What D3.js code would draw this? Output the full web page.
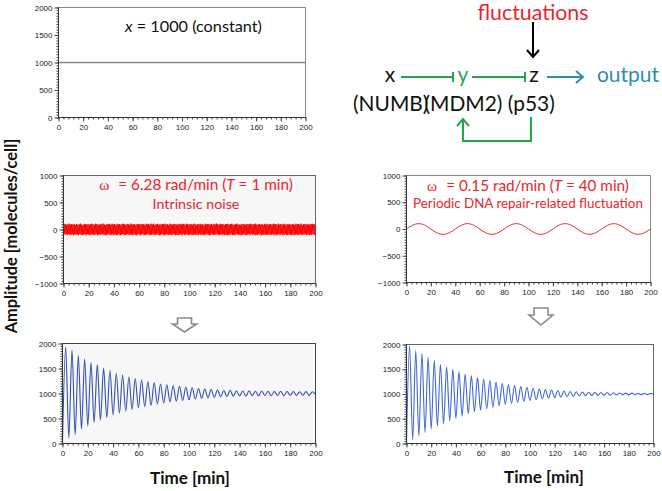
<!DOCTYPE html>
<html><head><meta charset="utf-8">
<script src="https://cdn.jsdelivr.net/npm/d3@7"></script>
<style>body{margin:0;background:#fff}svg{display:block}</style>
</head><body>
<svg id="c" width="662" height="491"></svg>
<script>
// ---------- DATA ----------
const timeTicks = [0,20,40,60,80,100,120,140,160,180,200];
const ticks0to2000 = [0,500,1000,1500,2000];
const ticksPm1000 = [-1000,-500,0,500,1000];
const constantInput = [[0,1000],[200,1000]];
// intrinsic noise (T = 1 min), extremes every 0.5 min
const noiseValues = [0,
95,-88,104,-92,86,-101,97,-84,108,-95,90,-99,102,-87,93,-106,99,-90,85,-97,
101,-93,88,-104,96,-86,107,-98,91,-102,84,-95,103,-89,97,-108,92,-85,100,-94,
87,-103,98,-91,106,-88,94,-100,89,-96,105,-84,99,-107,92,-93,86,-101,103,-90,
96,-87,109,-95,90,-104,85,-98,102,-92,97,-86,104,-100,88,-94,107,-89,93,-105,
99,-91,86,-102,104,-96,92,-88,101,-107,89,-93,97,-85,106,-99,94,-103,87,-92,
103,-86,95,-100,88,-94,108,-90,96,-104,91,-87,100,-97,85,-106,102,-93,98,-89,
90,-105,101,-92,97,-86,94,-103,87,-99,105,-91,93,-88,103,-96,89,-101,106,-94,
94,-90,106,-97,85,-102,99,-89,104,-93,88,-107,96,-100,91,-86,101,-95,97,-104,
105,-93,91,-88,100,-101,86,-96,107,-90,95,-103,89,-92,102,-87,98,-106,93,-99,
88,-100,97,-95,103,-89,92,-105,99,-86,104,-98,87,-94,106,-91,95,-102,90,-97,
102,-88,94,-104,89,-96,107,-92,97,-101,86,-90,100,-106,93,-85,104,-99,88,-93,
97,-103,85,-91,105,-97,92,-87,101,-94,99,-108,90,-96,103,-89,87,-100,106,-92,
91,-95,108,-86,96,-102,88,-99,104,-90,93,-97,102,-88,85,-104,98,-93,100,-107,
104,-91,89,-98,99,-87,106,-103,92,-95,88,-101,97,-90,107,-86,94,-99,91,-96,
86,-106,101,-93,94,-90,100,-97,87,-104,103,-92,95,-88,99,-102,105,-85,92,-98,
99,-89,93,-105,108,-94,90,-100,96,-87,102,-93,88,-107,101,-91,86,-97,104,-95,
93,-102,105,-88,87,-99,103,-91,98,-96,90,-86,107,-101,94,-93,100,-104,89,-90,
107,-94,88,-97,101,-85,95,-106,91,-100,104,-89,86,-95,99,-103,92,-88,97,-101,
89,-99,100,-91,94,-104,87,-93,106,-88,97,-102,103,-96,90,-87,108,-94,85,-100,
96,-92,103,-87,91,-101,99,-95,88,-105,94,-90,101,-98,105,-86,92,-103,97,-5];
// periodic DNA repair-related fluctuation (T = 40 min), every 5 min
const periodicValues = [0,71,100,71,0,-71,-100,-71, 0,71,100,71,0,-71,-100,-71,
 0,71,100,71,0,-71,-100,-71, 0,71,100,71,0,-71,-100,-71, 0,71,100,71,0,-71,-100,-71, 0];
// p53 response, peaks/troughs every 2.5 min
const responseLeft = [0,1930,110,1870,180,1760,290,1690,350,1620,420,1580,470,1510,520,1460,570,
 1400,610,1370,650,1330,680,1300,710,1270,740,1240,760,1220,790,1190,810,1175,830,1160,845,1145,860,
 1130,875,1120,890,1100,905,1090,915,1080,925,1070,935,1060,940,1065,945,1055,950,1050,945,1055,955,
 1045,950,1050,960,1045,955,1040,960,1045,955,1040,965,1040,960,1035,965,1040,960,1035,980];
const responseRight = [0,1970,70,1880,150,1820,220,1740,290,1680,350,1600,400,1550,460,1500,510,
 1450,550,1400,600,1370,640,1330,670,1300,700,1270,730,1240,760,1215,790,1190,810,1170,830,1150,850,
 1135,870,1115,885,1100,900,1090,915,1080,925,1070,935,1060,945,1050,955,1045,960,1040,965,1035,970,
 1035,970,1030,975,1030,975,1025,980,1020,982,1018,983,1018,985,1015,985,1015,987,1012,1000];

const noiseTimes = noiseValues.map((v,i)=>i*0.5);
const periodicTimes = periodicValues.map((v,i)=>i*5);
const responseTimes = responseLeft.map((v,i)=>i*2.5);

// ---------- DRAW ----------
const svg = d3.select("#c");
const CAL = "Lato, 'Open Sans', sans-serif";
const TICKF = "'Liberation Sans', Arial, sans-serif";

function fit(t, w){
  const L = t.node().getComputedTextLength();
  const fs = parseFloat(t.attr("font-size"));
  t.attr("font-size", fs*w/L);
  return t;
}

function panel(o){
  const g = svg.append("g");
  const x = d3.scaleLinear().domain([0,200]).range([o.l,o.r]);
  const y = d3.scaleLinear().domain(o.yd).range([o.b,o.t]);
  g.append("rect").attr("x",o.l).attr("y",o.t).attr("width",o.r-o.l).attr("height",o.b-o.t)
    .attr("fill",o.bg).attr("stroke",o.border).attr("stroke-width",1);
  const style = s => { s.select(".domain").remove();
    s.selectAll("line").attr("stroke","#444");
    s.selectAll("text").attr("font-family",TICKF).attr("font-size",8).attr("fill","#222"); };
  const fmt = d3.format("d");
  g.append("g").attr("transform",`translate(${o.l},0)`)
    .call(d3.axisLeft(y).tickValues(d3.range(o.yd[0],o.yd[1]+1,50)).tickSize(2).tickFormat("")).call(style);
  g.append("g").attr("transform",`translate(${o.l},0)`)
    .call(d3.axisLeft(y).tickValues(o.yt).tickSize(4).tickPadding(2).tickFormat(fmt)).call(style);
  g.append("g").attr("transform",`translate(0,${o.b})`)
    .call(d3.axisBottom(x).tickValues(d3.range(0,201,4)).tickSize(2).tickFormat("")).call(style);
  g.append("g").attr("transform",`translate(0,${o.b})`)
    .call(d3.axisBottom(x).tickValues(timeTicks).tickSize(4).tickPadding(3).tickFormat(fmt)).call(style);
  const clipId = "clip"+Math.round(o.l)+"_"+Math.round(o.t);
  svg.append("clipPath").attr("id",clipId).append("rect")
    .attr("x",o.l).attr("y",o.t).attr("width",o.r-o.l).attr("height",o.b-o.t);
  const plot = g.append("g").attr("clip-path",`url(#${clipId})`);
  g.append("line").attr("x1",o.l).attr("x2",o.l).attr("y1",o.t).attr("y2",o.b).attr("stroke","#333");
  g.append("line").attr("x1",o.l).attr("x2",o.r).attr("y1",o.b).attr("y2",o.b).attr("stroke","#333");
  return {x,y,g,plot};
}

// Panel 1: constant input
const p1 = panel({l:58.5,r:305.5,t:7.5,b:117.5,yd:[0,2000],yt:ticks0to2000,bg:"#fff",border:"#888"});
p1.plot.append("path").datum(constantInput)
  .attr("d",d3.line().x(d=>p1.x(d[0])).y(d=>p1.y(d[1])))
  .attr("stroke","#888").attr("stroke-width",1.5).attr("fill","none");
{
  const t = p1.g.append("text").attr("x",125).attr("y",32).attr("font-family",CAL).attr("font-size",17).attr("fill","#111");
  t.append("tspan").attr("font-style","italic").text("x");
  t.append("tspan").text(" = 1000 (constant)");
  fit(t,137);
}

// Panel 2: intrinsic noise
const p2 = panel({l:63.5,r:315.5,t:175.5,b:283.5,yd:[-1000,1000],yt:ticksPm1000,bg:"#f7f7f7",border:"#666"});
p2.plot.append("path").datum(noiseValues.map((v,i)=>[noiseTimes[i],v]))
  .attr("d",d3.line().x(d=>p2.x(d[0])).y(d=>p2.y(d[1])))
  .attr("stroke","#ff0000").attr("stroke-width",1).attr("fill","none");

function omegaTitle(cx, y1, y2, w1, w2, omegaStr, tStr, line2){
  const t = svg.append("text").attr("x",cx).attr("y",y1).attr("text-anchor","middle")
    .attr("font-family",CAL).attr("font-size",15).attr("fill","#e8262d");
  t.append("tspan").attr("font-family","'Liberation Serif', serif").text("ω");
  t.append("tspan").attr("dx",9).text("= "+omegaStr+" rad/min (");
  t.append("tspan").attr("font-style","italic").text("T");
  t.append("tspan").text(" = "+tStr+" min)");
  fit(t,w1);
  const t2 = svg.append("text").attr("x",cx).attr("y",y2).attr("text-anchor","middle")
    .attr("font-family",CAL).attr("font-size",15).attr("fill","#e8262d").text(line2);
  fit(t2,w2);
}
omegaTitle(196,190,209,185,87,"6.28","1","Intrinsic noise");

// Panel 3: periodic fluctuation
const p3 = panel({l:406.5,r:650.5,t:175.5,b:282.5,yd:[-1000,1000],yt:ticksPm1000,bg:"#fff",border:"#888"});
p3.plot.append("path").datum(periodicValues.map((v,i)=>[periodicTimes[i],v]))
  .attr("d",d3.line().x(d=>p3.x(d[0])).y(d=>p3.y(d[1])).curve(d3.curveNatural))
  .attr("stroke","#e03030").attr("stroke-width",1).attr("fill","none");
omegaTitle(528,191,208,193,230,"0.15","40","Periodic DNA repair-related fluctuation");

// Panel 4 & 5: p53 responses
const p4 = panel({l:62.5,r:315.5,t:343.5,b:443.5,yd:[0,2000],yt:ticks0to2000,bg:"#f7f7f7",border:"#444"});
p4.plot.append("path").datum(responseLeft.map((v,i)=>[responseTimes[i],v]))
  .attr("d",d3.line().x(d=>p4.x(d[0])).y(d=>p4.y(d[1])).curve(d3.curveMonotoneX))
  .attr("stroke","#2f50ac").attr("stroke-width",1.1).attr("fill","none");
const p5 = panel({l:406.5,r:653.5,t:344.5,b:443.5,yd:[0,2000],yt:ticks0to2000,bg:"#fff",border:"#666"});
p5.plot.append("path").datum(responseRight.map((v,i)=>[responseTimes[i],v]))
  .attr("d",d3.line().x(d=>p5.x(d[0])).y(d=>p5.y(d[1])).curve(d3.curveMonotoneX))
  .attr("stroke","#3e68d6").attr("stroke-width",1.1).attr("fill","none");

// hollow down arrows
function hollowArrow(cx, top, stemW, headW, stemH, headH){
  const p = `M${cx-stemW/2},${top}H${cx+stemW/2}V${top+stemH}H${cx+headW/2}L${cx},${top+stemH+headH}L${cx-headW/2},${top+stemH}H${cx-stemW/2}Z`;
  svg.append("path").attr("d",p).attr("fill","#fff").attr("stroke","#8a8a8a").attr("stroke-width",1.6);
}
hollowArrow(184.5,318,14,24,6,8);
hollowArrow(541,308,14,24,7,10);

// axis titles
{
  const t = svg.append("text").attr("x",190).attr("y",484).attr("text-anchor","middle")
    .attr("font-family",CAL).attr("font-weight","bold").attr("font-size",17).attr("fill","#111").text("Time [min]");
  fit(t,80);
  const t2 = svg.append("text").attr("x",544).attr("y",483).attr("text-anchor","middle")
    .attr("font-family",CAL).attr("font-weight","bold").attr("font-size",17).attr("fill","#111").text("Time [min]");
  fit(t2,80);
  const t3 = svg.append("text").attr("transform","translate(17,236) rotate(-90)").attr("text-anchor","middle")
    .attr("font-family",CAL).attr("font-weight","bold").attr("font-size",17).attr("fill","#111").text("Amplitude [molecules/cell]");
  fit(t3,195);
}

// ---------- network diagram ----------
const green = "#22a84a", blueOut = "#2f8db5";
const D = svg.append("g");
const txt = (x,y,s,c,anchor,w) => { const t = D.append("text").attr("x",x).attr("y",y).attr("text-anchor",anchor||"middle")
  .attr("font-family",CAL).attr("font-size",21).attr("fill",c).text(s); if(w) fit(t,w); return t; };
txt(533,20,"fluctuations","#e8262d","middle",111);
txt(390,82,"x","#111");
txt(463,82,"y",green);
txt(534,82,"z","#111");
txt(597,82,"output",blueOut,"start",62);
{
  const t = D.append("text").attr("x",353).attr("y",111).attr("font-family",CAL).attr("font-size",21).attr("fill","#111");
  t.append("tspan").text("(NUMB)");
  t.append("tspan").attr("dx",-4).text("(MDM2) (p53)");
  fit(t,206);
}
// black arrow
D.append("line").attr("x1",533).attr("x2",533).attr("y1",22).attr("y2",57).attr("stroke","#000").attr("stroke-width",2);
D.append("path").attr("d","M527,50L533,57L539,50").attr("stroke","#000").attr("stroke-width",2).attr("fill","none");
// inhibition arrows
D.append("line").attr("x1",401).attr("x2",453).attr("y1",77).attr("y2",77).attr("stroke",green).attr("stroke-width",2);
D.append("line").attr("x1",453).attr("x2",453).attr("y1",72).attr("y2",82).attr("stroke",green).attr("stroke-width",2);
D.append("line").attr("x1",472).attr("x2",525).attr("y1",77).attr("y2",77).attr("stroke",green).attr("stroke-width",2);
D.append("line").attr("x1",525).attr("x2",525).attr("y1",72).attr("y2",82).attr("stroke",green).attr("stroke-width",2);
// output arrow
D.append("line").attr("x1",547).attr("x2",583).attr("y1",77).attr("y2",77).attr("stroke",blueOut).attr("stroke-width",2);
D.append("path").attr("d","M576,71L583,77L576,83").attr("stroke",blueOut).attr("stroke-width",2).attr("fill","none");
// feedback
D.append("path").attr("d","M531,117V141H463V120").attr("stroke",green).attr("stroke-width",2).attr("fill","none");
D.append("path").attr("d","M457,126L463,119L469,126").attr("stroke",green).attr("stroke-width",2).attr("fill","none");
</script>
</body></html>
